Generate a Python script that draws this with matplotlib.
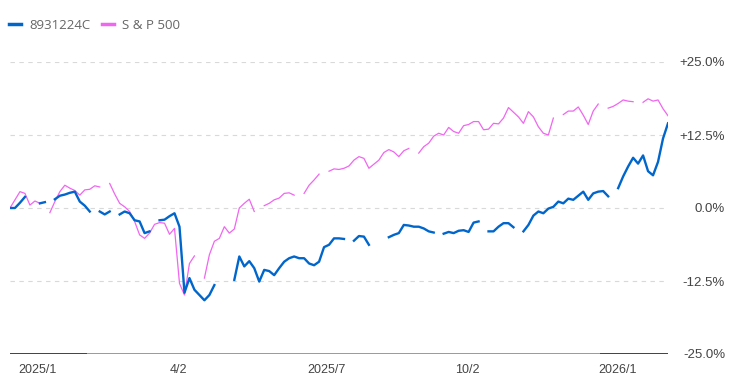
import numpy as np
import pandas as pd
import matplotlib
matplotlib.use("Agg")
import matplotlib.pyplot as plt

# Data read from the chart (percent change), sampled evenly from 2024-12-18 to 2026-02-05
# nan = no value on that day (gap in the line)
nan = np.nan
start_date = "2024-12-18"
end_date = "2026-02-05"

fund_name = "8931224C"
fund = [
    0.0, 0.0, 0.9, 1.9, nan, nan, 0.8, 1.0, nan, 1.5,
    2.1, 2.3, 2.6, 2.8, 1.1, 0.4, -0.6, nan, -0.6, -1.1,
    -0.6, nan, -1.1, -0.6, -0.9, -2.1, -2.3, -4.3, -4.0, nan,
    -2.1, -2.0, -1.4, -0.9, -3.2, -14.5, -12.0, -14.0, -14.9, -15.8,
    -14.9, -13.2, nan, -11.8, nan, -12.3, -8.3, -10.0, -9.1, -10.3,
    -12.6, -10.6, -10.8, -11.5, -10.3, -9.2, -8.6, -8.3, -8.6, -8.6,
    -9.5, -9.8, -9.2, -6.7, -6.3, -5.2, -5.2, -5.3, nan, -5.6,
    -4.8, -4.9, -6.3, nan, -6.6, nan, -5.0, -4.6, -4.3, -2.9,
    -3.0, -3.2, -3.2, -3.5, -4.0, -4.2, nan, -4.4, -4.1, -4.3,
    -3.9, -3.8, -4.1, -2.5, -2.3, nan, -4.0, -4.0, -3.2, -2.6,
    -2.6, -3.3, nan, -4.0, -2.9, -1.3, -0.6, -0.9, -0.1, 0.2,
    1.1, 0.8, 1.6, 1.4, 2.1, 2.8, 1.4, 2.5, 2.8, 2.9,
    2.0, nan, 3.4, 5.4, 7.1, 8.6, 7.6, 9.0, 6.3, 5.6,
    7.9, 11.9, 14.5,
]

index_name = "S & P 500"
sp500 = [
    0.0, 1.4, 2.8, 2.5, 0.5, 1.2, 0.8, nan, -0.8, 1.1,
    2.8, 3.9, 3.4, 3.0, 2.2, 3.1, 3.2, 3.8, 3.6, nan,
    4.2, 2.4, 0.8, 0.2, -0.6, -2.3, -4.6, -5.2, -4.3, -2.8,
    -2.5, -2.6, -4.5, -3.5, -12.9, -14.9, -9.5, -8.2, nan, -12.0,
    -8.0, -5.7, -5.2, -3.2, -4.3, -3.6, 0.0, 0.8, 1.5, -0.6,
    nan, 0.4, 0.8, 1.4, 1.7, 2.5, 2.6, 2.2, nan, 2.5,
    3.9, 4.8, 5.8, nan, 6.3, 6.7, 6.6, 6.8, 7.2, 8.2,
    8.8, 8.5, 6.8, 7.5, 8.2, 9.5, 10.0, 9.6, 8.8, 9.8,
    10.2, nan, 9.4, 10.5, 11.1, 12.3, 12.8, 12.5, 13.8, 13.1,
    12.8, 14.1, 14.3, 14.8, 14.8, 13.4, 13.5, 14.5, 14.4, 15.4,
    17.2, 16.4, 15.6, 14.5, 16.5, 15.6, 13.9, 12.8, 12.5, 15.4,
    nan, 16.0, 16.6, 16.6, 17.3, 15.9, 14.3, 16.6, 17.8, nan,
    17.1, 17.4, 17.9, 18.5, 18.3, 18.2, nan, 18.1, 18.7, 18.3,
    18.5, 17.0, 15.8,
]

tick_dates = ["2025-01-04", "2025-04-03", "2025-07-05", "2025-10-02", "2026-01-04"]
tick_labels = ["2025/1", "4/2", "2025/7", "10/2", "2026/1"]
y_ticks = [-25, -12.5, 0, 12.5, 25]
y_labels = ["-25.0%", "-12.5%", "0.0%", "+12.5%", "+25.0%"]

dates = pd.date_range(start_date, end_date, periods=len(fund))

plt.rcParams["font.family"] = ["Liberation Sans", "DejaVu Sans"]

fig = plt.figure(figsize=(7.43, 3.85), dpi=100)
ax = fig.add_axes([10 / 743, 1 - 354 / 385, 658 / 743, 292 / 385])

# Lines
ax.plot(dates, fund, color="#0066cc", lw=1.7, label=fund_name, zorder=3)
ax.plot(dates, sp500, color="#f066f0", lw=0.9, label=index_name, zorder=2)

# Grid
for v in y_ticks[1:]:
    ax.axhline(v, color="#d9d9d9", lw=0.8, ls=(0, (4, 4)), zorder=1)
ax.axhline(-25, color="#9a9a9a", lw=1.4, zorder=1)
ax.axhline(-25, xmin=0.0, xmax=0.115, color="#444444", lw=1.4, zorder=1)
ax.axhline(-25, xmin=0.898, xmax=1.0, color="#444444", lw=1.4, zorder=1)

ax.set_ylim(-25, 25)
ax.set_xlim(dates[0], dates[-1])

ax.yaxis.tick_right()
ax.set_yticks(y_ticks)
ax.set_yticklabels(y_labels)
ax.set_xticks(pd.to_datetime(tick_dates))
ax.set_xticklabels(tick_labels)
ax.tick_params(axis="both", length=0, labelcolor="#444444")
ax.tick_params(axis="y", pad=0, labelsize=9.5)
ax.tick_params(axis="x", pad=7, labelsize=9)
for lbl in ax.get_yticklabels():
    lbl.set_horizontalalignment("right")
    lbl.set_x(1.0 + 57 / 658)

for s in ax.spines.values():
    s.set_visible(False)

# Legend
leg = fig.legend(loc="upper left", bbox_to_anchor=(0.0, 0.975), ncol=2, frameon=False,
                 handlelength=0.9, handletextpad=0.6, columnspacing=0.9,
                 borderaxespad=0.3,
                 prop={"family": ["Open Sans", "DejaVu Sans"], "size": 9.5})
for t in leg.get_texts():
    t.set_color("#666666")
for h in leg.get_lines():
    h.set_linewidth(2.5)

fig.savefig("out.png", dpi=100)
